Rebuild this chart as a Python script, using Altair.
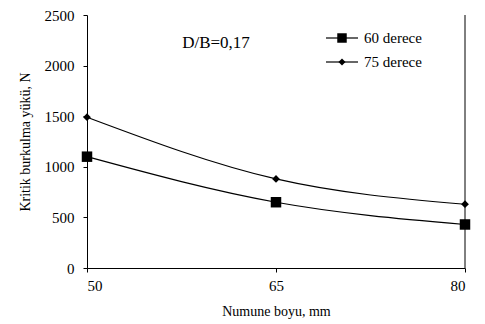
import altair as alt
import pandas as pd

x_vals = [50, 65, 80]
series_names = ["60 derece", "75 derece"]
y_60 = [1100, 650, 430]
y_75 = [1490, 880, 630]
x_ticks = [50, 65, 80]
y_ticks = [0, 500, 1000, 1500, 2000, 2500]
annotation = "D/B=0,17"

rows = []
for name, ys in zip(series_names, [y_60, y_75]):
    for x, y in zip(x_vals, ys):
        rows.append({"boy": x, "yuk": y, "seri": name})
df = pd.DataFrame(rows)

FONT = "Liberation Serif"

xenc = alt.X("boy:Q", scale=alt.Scale(domain=[50, 80], nice=False),
             axis=alt.Axis(values=x_ticks, title="Numune boyu, mm", grid=False, format="d",
                           tickSize=4, labelPadding=6, titlePadding=11))
yenc = alt.Y("yuk:Q", scale=alt.Scale(domain=[0, 2500], nice=False),
             axis=alt.Axis(values=y_ticks, title="Kritik burkulma yükü, N", grid=False, format="d",
                           tickSize=4, labelPadding=9, titlePadding=12))

base = alt.Chart(df)

lines = base.mark_line(color="black", strokeWidth=1.2, interpolate="monotone").encode(
    x=xenc, y=yenc, detail="seri:N")

pts_sq = base.transform_filter(alt.datum.seri == series_names[0]).mark_point(
    filled=True, color="black", opacity=1, shape="square", size=110).encode(x="boy:Q", y="yuk:Q")
pts_di = base.transform_filter(alt.datum.seri == series_names[1]).mark_point(
    filled=True, color="black", opacity=1, shape="diamond", size=60).encode(x="boy:Q", y="yuk:Q")

# manual legend (layout in pixels)
leg_rows = [23, 47]
leg_shapes = ["square", "diamond"]
leg_sizes = [90, 50]
legend_layers = []
for name, ly, shp, sz in zip(series_names, leg_rows, leg_shapes, leg_sizes):
    ldf = pd.DataFrame({"seri": [name]})
    legend_layers.append(alt.Chart(ldf).mark_rule(color="black", strokeWidth=1.2).encode(
        x=alt.value(239), x2=alt.value(271), y=alt.value(ly)))
    legend_layers.append(alt.Chart(ldf).mark_point(
        filled=True, color="black", opacity=1, shape=shp, size=sz).encode(
        x=alt.value(255), y=alt.value(ly)))
    legend_layers.append(alt.Chart(ldf).mark_text(
        font=FONT, fontSize=15, color="black", align="left", baseline="middle").encode(
        text="seri:N", x=alt.value(277), y=alt.value(ly)))

right_border = alt.Chart(pd.DataFrame({"a": [0]})).mark_rule(color="black", strokeWidth=1).encode(
    x=alt.datum(80), y=alt.datum(0), y2=alt.datum(2500))

text = alt.Chart(pd.DataFrame({"t": [annotation]})).mark_text(
    font=FONT, fontSize=17, color="black", align="center", baseline="middle").encode(
    text="t:N", x=alt.value(129), y=alt.value(28))

chart = alt.layer(lines, pts_sq, pts_di, right_border, text, *legend_layers).properties(
    width=378, height=253,
    autosize=alt.AutoSizeParams(type="none"),
    padding={"left": 79, "top": 7, "right": 12, "bottom": 56},
    background="white",
).configure(font=FONT).configure_view(stroke=None).configure_axis(
    domainColor="black", tickColor="black", labelColor="black", titleColor="black",
    labelFont=FONT, titleFont=FONT, labelFontSize=15, titleFontSize=14,
    titleFontWeight="normal", domainWidth=1, tickWidth=1,
)

chart.save("out.html", embed_options={"renderer": "svg", "actions": False})
